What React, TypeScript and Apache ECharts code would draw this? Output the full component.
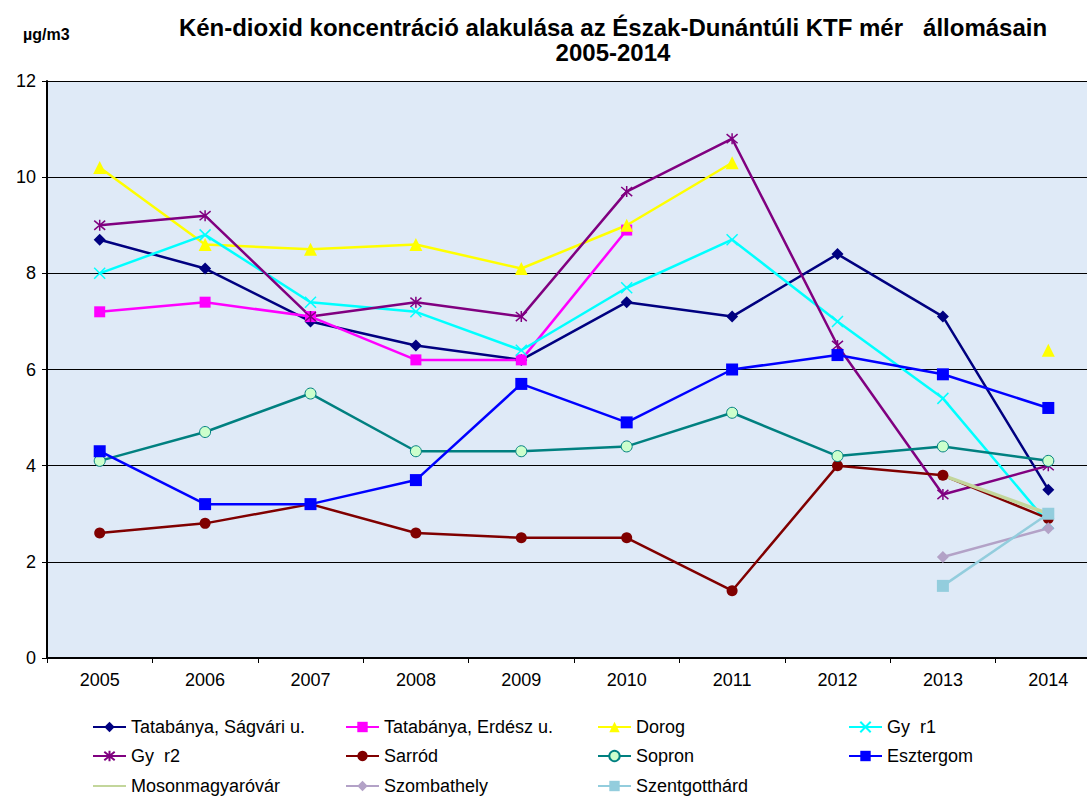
import React, { useEffect, useRef } from "react";
import * as echarts from "echarts";

const years = ["2005", "2006", "2007", "2008", "2009", "2010", "2011", "2012", "2013", "2014"];

const tatabanyaSagvari = [8.7, 8.1, 7.0, 6.5, 6.2, 7.4, 7.1, 8.4, 7.1, 3.5];
const tatabanyaErdesz = [7.2, 7.4, 7.1, 6.2, 6.2, 8.9, null, null, null, null];
const dorog = [10.2, 8.6, 8.5, 8.6, 8.1, 9.0, 10.3, null, null, 6.4];
const gyor1 = [8.0, 8.8, 7.4, 7.2, 6.4, 7.7, 8.7, 7.0, 5.4, 2.8];
const gyor2 = [9.0, 9.2, 7.1, 7.4, 7.1, 9.7, 10.8, 6.5, 3.4, 4.0];
const sarrod = [2.6, 2.8, 3.2, 2.6, 2.5, 2.5, 1.4, 4.0, 3.8, 2.9];
const sopron = [4.1, 4.7, 5.5, 4.3, 4.3, 4.4, 5.1, 4.2, 4.4, 4.1];
const esztergom = [4.3, 3.2, 3.2, 3.7, 5.7, 4.9, 6.0, 6.3, 5.9, 5.2];
const mosonmagyarovar = [null, null, null, null, null, null, null, null, 3.8, 3.0];
const szombathely = [null, null, null, null, null, null, null, null, 2.1, 2.7];
const szentgotthard = [null, null, null, null, null, null, null, null, 1.5, 3.0];

const yTicks = [0, 2, 4, 6, 8, 10, 12];

const FONT = "'Liberation Sans', Arial, sans-serif";
const XPATH = "path://M0,0L10,10M10,0L0,10";
const STARPATH = "path://M0,0L10,10M10,0L0,10M5,-1L5,11";

type S = {
  name: string;
  data: (number | null)[];
  color: string;
  symbol: string;
  size: number;
  fill?: string;
  stroke?: boolean;
  width?: number;
};

const seriesDefs: S[] = [
  { name: "Tatabánya, Ságvári u.", data: tatabanyaSagvari, color: "#000080", symbol: "diamond", size: 12 },
  { name: "Tatabánya, Erdész u.", data: tatabanyaErdesz, color: "#FF00FF", symbol: "rect", size: 11 },
  { name: "Dorog", data: dorog, color: "#FFFF00", symbol: "triangle", size: 13 },
  { name: "Gy  r1", data: gyor1, color: "#00FFFF", symbol: XPATH, size: 11, stroke: true },
  { name: "Gy  r2", data: gyor2, color: "#800080", symbol: STARPATH, size: 11, stroke: true },
  { name: "Sarród", data: sarrod, color: "#800000", symbol: "circle", size: 11 },
  { name: "Sopron", data: sopron, color: "#008080", symbol: "circle", size: 11, fill: "#CCFFCC" },
  { name: "Esztergom", data: esztergom, color: "#0000FF", symbol: "rect", size: 12 },
  { name: "Mosonmagyaróvár", data: mosonmagyarovar, color: "#C3D69B", symbol: "none", size: 0, width: 3.5 },
  { name: "Szombathely", data: szombathely, color: "#B3A2C7", symbol: "diamond", size: 12 },
  { name: "Szentgotthárd", data: szentgotthard, color: "#93CDDD", symbol: "rect", size: 12 },
];

const legendCols = [92, 345, 597, 848];
const legendRows = [728, 757, 787];

export default function App() {
  const ref = useRef<HTMLDivElement>(null);
  useEffect(() => {
    if (!ref.current) return;
    const chart = echarts.init(ref.current, undefined, { renderer: "svg" });
    const series = seriesDefs.map((s) => ({
      name: s.name,
      type: "line",
      data: s.data,
      symbol: s.symbol,
      symbolSize: s.size,
      showAllSymbol: true,
      connectNulls: false,
      lineStyle: { color: s.color, width: s.width ?? 2.5 },
      itemStyle: s.stroke
        ? { color: s.color, borderColor: s.color, borderWidth: 1.5 }
        : s.fill
        ? { color: s.fill, borderColor: s.color, borderWidth: 1 }
        : { color: s.color, borderWidth: 0 },
      emphasis: { disabled: true },
    }));
    const legends = seriesDefs.map((s, i) => ({
      data: [s.symbol === "none" ? { name: s.name, itemStyle: { opacity: 0 } } : s.name],
      left: legendCols[i % 4],
      top: legendRows[Math.floor(i / 4)] - 10,
      itemWidth: 33,
      itemHeight: 13,
      itemGap: 5,
      padding: 0,
      selectedMode: false,
      textStyle: { fontFamily: FONT, fontSize: 18, color: "#000" },
    }));
    chart.setOption({
      animation: false,
      backgroundColor: "#ffffff",
      title: [
        {
          text: "Kén-dioxid koncentráció alakulása az Észak-Dunántúli KTF mér   állomásain\n2005-2014",
          left: 608,
          top: 10,
          textAlign: "center",
          textStyle: { fontFamily: FONT, fontSize: 24, fontWeight: "bold", color: "#000", lineHeight: 25 },
        },
        {
          text: "µg/m3",
          left: 18,
          top: 21,
          textStyle: { fontFamily: FONT, fontSize: 16, fontWeight: "bold", color: "#000" },
        },
      ],
      legend: legends,
      grid: {
        left: 47,
        right: 0,
        top: 81,
        bottom: 138,
        show: true,
        backgroundColor: "#DFEAF7",
        borderWidth: 0,
      },
      xAxis: {
        type: "category",
        data: years,
        boundaryGap: true,
        axisLine: { lineStyle: { color: "#000", width: 2 } },
        axisTick: { show: true, length: 5, lineStyle: { color: "#000", width: 1 } },
        axisLabel: { fontFamily: FONT, fontSize: 18, color: "#000", margin: 13 },
        splitLine: { show: false },
      },
      yAxis: {
        type: "value",
        min: 0,
        max: 12,
        interval: 2,
        axisLine: { show: true, lineStyle: { color: "#000", width: 2 } },
        axisTick: { show: true, length: 5, lineStyle: { color: "#000" } },
        axisLabel: {
          fontFamily: FONT,
          fontSize: 18,
          color: "#000",
          margin: 11,
          formatter: (v: number) => (yTicks.includes(v) ? String(v) : ""),
        },
        splitLine: { show: true, lineStyle: { color: "#000", width: 1 } },
      },
      series,
    });
    return () => chart.dispose();
  }, []);
  return (
    <div style={{ position: "absolute", left: 0, top: 0, width: 1087, height: 796, overflow: "hidden" }}>
      <div ref={ref} style={{ position: "absolute", left: 0, top: 0, width: 1101, height: 796 }} />
    </div>
  );
}
